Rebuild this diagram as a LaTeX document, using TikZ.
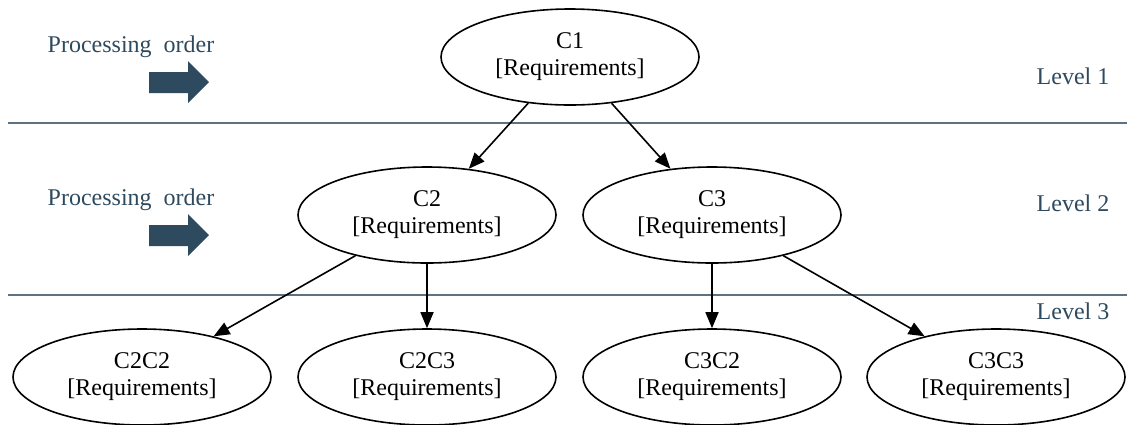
\documentclass[tikz,border=0pt]{standalone}
\usepackage{fontspec}
\setmainfont{Liberation Serif}
\usetikzlibrary{shapes.geometric,arrows.meta}
\definecolor{slate}{HTML}{2E4A5F}
\definecolor{rule}{HTML}{5F7282}
\begin{document}
\begin{tikzpicture}[x=0.5pt,y=-0.5pt,
  font=\fontsize{12pt}{13.5pt}\selectfont,
  req/.style={draw=black,line width=0.8pt,ellipse,minimum width=129pt,minimum height=48pt,inner sep=0pt,align=center},
  conn/.style={draw=black,line width=0.8pt,-{Triangle[length=8pt,width=6.5pt]}},
  lvl/.style={text=slate,anchor=center},
  procarrow/.style={fill=slate,draw=none},
  levelrule/.style={draw=rule,line width=0.7pt}]
\useasboundingbox (0,0) rectangle (1127,424);
% level rules
\coordinate (r1a) at (8,123); \coordinate (r1b) at (1127,123);
\coordinate (r2a) at (8,295); \coordinate (r2b) at (1127,295);
\draw[levelrule] (r1a) -- (r1b);
\draw[levelrule] (r2a) -- (r2b);
% nodes
\node[req] (c1) at (570,57) {C1\\{}[Requirements]};
\node[req] (c2) at (427,215) {C2\\{}[Requirements]};
\node[req] (c3) at (712,215) {C3\\{}[Requirements]};
\node[req] (c22) at (142,377) {C2C2\\{}[Requirements]};
\node[req] (c23) at (427,377) {C2C3\\{}[Requirements]};
\node[req] (c32) at (712,377) {C3C2\\{}[Requirements]};
\node[req] (c33) at (996,377) {C3C3\\{}[Requirements]};
% connectors
\draw[conn] (c1) -- (c2);
\draw[conn] (c1) -- (c3);
\draw[conn] (c2) -- (c22);
\draw[conn] (c2) -- (c23);
\draw[conn] (c3) -- (c32);
\draw[conn] (c3) -- (c33);
% processing order
\node[lvl] (p1) at (131,47) {Processing\ \ order};
\node[lvl] (p2) at (131,200) {Processing\ \ order};
\path[procarrow] (149,72) -- (188,72) -- (188,61) -- (209,82) -- (188,103) -- (188,93) -- (149,93) -- cycle;
\path[procarrow] (149,225) -- (188,225) -- (188,214) -- (209,235) -- (188,256) -- (188,246) -- (149,246) -- cycle;
% levels
\node[lvl] (l1) at (1073,76) {Level 1};
\node[lvl] (l2) at (1073,203) {Level 2};
\node[lvl] (l3) at (1073,311) {Level 3};
\end{tikzpicture}
\end{document}
